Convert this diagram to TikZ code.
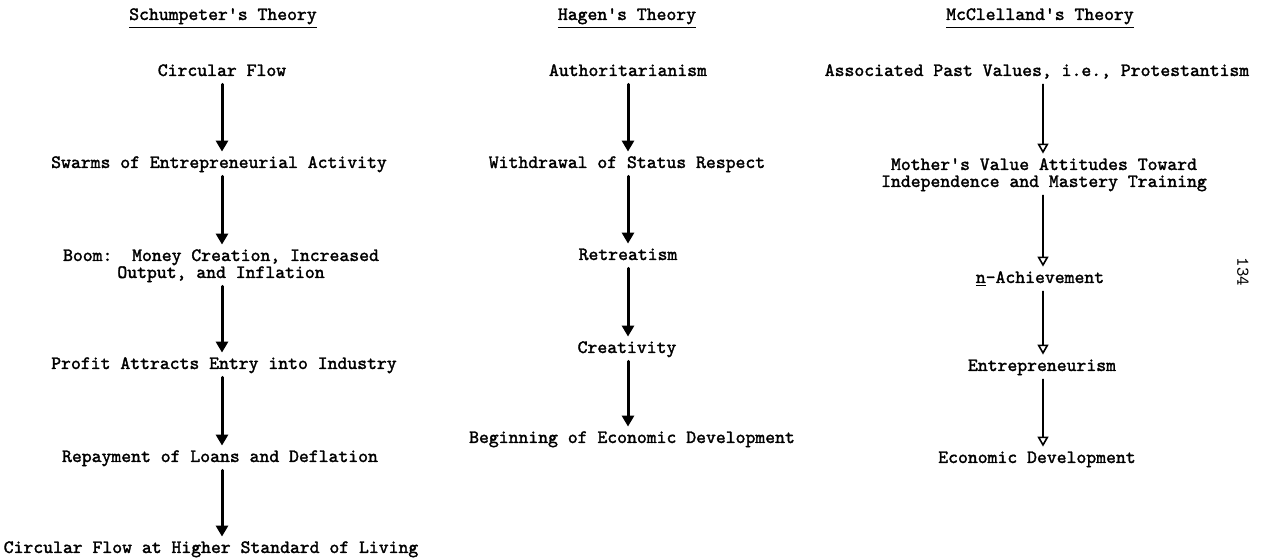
\documentclass[tikz,border=0pt]{standalone}
\usepackage{fontspec}
\usepackage{tikz}
\usetikzlibrary{arrows.meta}
\newfontfamily\typewriter{lmmono10-regular}[Extension=.otf, FakeBold=1.8]

\begin{document}
\begin{tikzpicture}[x=0.5pt, y=-0.5pt, line join = round, line cap = round,
  stage/.style={anchor=base, align=center, inner xsep=0pt, inner ysep=2.5pt,
    text height=5.5pt, text depth=1.5pt,
    font=\typewriter\fontsize{9.4pt}{8.5pt}\selectfont},
  twoline/.style={stage, text height=14pt},
  heading/.style={stage},
  push/.style={line width=1.5pt, -{Triangle[width=6pt,length=5.5pt]}},
  lightpush/.style={line width=0.8pt, -{Triangle[open,width=5.5pt,length=5pt]}},
  folio/.style={font=\ttfamily\fontsize{9pt}{9pt}\selectfont, inner sep=0pt}]
\useasboundingbox (0,0) rectangle (1266,560);

\node[heading] (s0) at (223,20) {\underline{Schumpeter's Theory}};
\node[stage] (s1) at (222,76) {Circular Flow};
\node[stage] (s2) at (219,168) {Swarms of Entrepreneurial Activity};
\node[twoline] (s3) at (221,278) {Boom:\ \ Money Creation, Increased\\Output, and Inflation};
\node[stage] (s4) at (224,369) {Profit Attracts Entry into Industry};
\node[stage] (s5) at (220,462) {Repayment of Loans and Deflation};
\node[stage] (s6) at (211,553) {Circular Flow at Higher Standard of Living};

\draw[push] (s1.south) -- (s1.south |- s2.north);
\draw[push] (s1.south |- s2.south) -- (s1.south |- s3.north);
\draw[push] (s1.south |- s3.south) -- (s1.south |- s4.north);
\draw[push] (s1.south |- s4.south) -- (s1.south |- s5.north);
\draw[push] (s1.south |- s5.south) -- (s1.south |- s6.north);

\node[heading] (h0) at (627,20) {\underline{Hagen's Theory}};
\node[stage] (h1) at (628,76) {Authoritarianism};
\node[stage] (h2) at (627,168) {Withdrawal of Status Respect};
\node[stage] (h3) at (628,260) {Retreatism};
\node[stage] (h4) at (627,353) {Creativity};
\node[stage] (h5) at (632,443) {Beginning of Economic Development};

\draw[push] (h1.south) -- (h1.south |- h2.north);
\draw[push] (h1.south |- h2.south) -- (h1.south |- h3.north);
\draw[push] (h1.south |- h3.south) -- (h1.south |- h4.north);
\draw[push] (h1.south |- h4.south) -- (h1.south |- h5.north);

\node[heading] (m0) at (1040,20) {\underline{McClelland's Theory}};
\node[stage] (m1) at (1037,76) {Associated Past Values, i.e., Protestantism};
\node[twoline] (m2) at (1044,187) {Mother's Value Attitudes Toward\\Independence and Mastery Training};
\node[stage] (m3) at (1040,283) {\underline{n}-Achievement};
\node[stage] (m4) at (1042,371) {Entrepreneurism};
\node[stage] (m5) at (1037,463) {Economic Development};
\coordinate (mx) at (1043,0);

\draw[lightpush] (m1.south -| mx) -- (m2.north -| mx);
\draw[lightpush] (m2.south -| mx) -- (m3.north -| mx);
\draw[lightpush] (m3.south -| mx) -- (m4.north -| mx);
\draw[lightpush] (m4.south -| mx) -- (m5.north -| mx);

\node[folio, rotate=-90] (page) at (1243,272) {134};
\end{tikzpicture}
\end{document}
